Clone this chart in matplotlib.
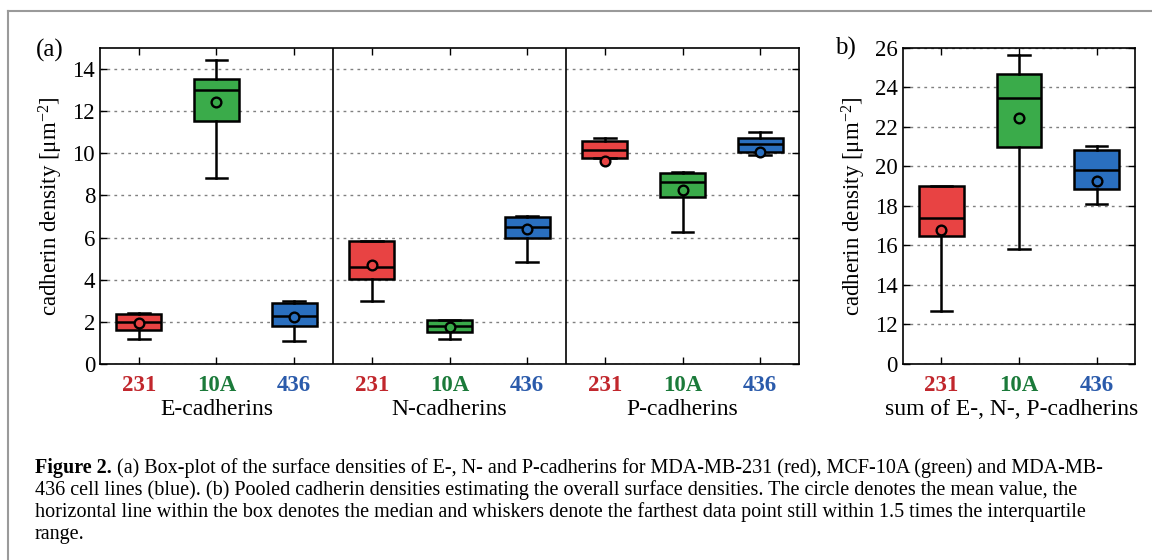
import matplotlib
matplotlib.use('Agg')
import matplotlib.pyplot as plt
from matplotlib.lines import Line2D
from matplotlib.transforms import blended_transform_factory

plt.rcParams['font.family'] = 'Liberation Serif'
plt.rcParams['mathtext.fontset'] = 'custom'
plt.rcParams['mathtext.rm'] = 'Liberation Serif'
plt.rcParams['mathtext.it'] = 'Liberation Serif:italic'

# cell lines and cadherin types
groups = ['231', '10A', '436']
cadherins = ['E-cadherins', 'N-cadherins', 'P-cadherins']

# panel (a): boxes in order E(231,10A,436), N(...), P(...)
q1_a = [1.62, 11.53, 1.82, 4.02, 1.50, 6.00, 9.77, 7.92, 10.06]
med_a = [2.00, 13.02, 2.28, 4.59, 1.79, 6.52, 10.15, 8.66, 10.45]
q3_a = [2.38, 13.55, 2.88, 5.86, 2.07, 6.97, 10.58, 9.06, 10.74]
lo_a = [1.17, 8.82, 1.11, 3.01, 1.17, 4.83, 9.77, 6.27, 9.93]
hi_a = [2.40, 14.44, 2.99, 5.86, 2.10, 7.03, 10.75, 9.12, 11.00]
mean_a = [1.96, 12.45, 2.22, 4.69, 1.77, 6.41, 9.64, 8.27, 10.07]

# panel (b): sum of E-, N-, P-cadherins
q1_b = [16.49, 21.00, 18.87]
med_b = [17.38, 23.48, 19.80]
q3_b = [19.02, 24.70, 20.85]
lo_b = [12.70, 15.83, 18.11]
hi_b = [19.02, 25.66, 21.06]
mean_b = [16.76, 22.47, 19.26]

caption_bold = 'Figure 2.'
caption = [
    ' (a) Box-plot of the surface densities of E-, N- and P-cadherins for MDA-MB-231 (red), MCF-10A (green) and MDA-MB-',
    '436 cell lines (blue). (b) Pooled cadherin densities estimating the overall surface densities. The circle denotes the mean value, the',
    'horizontal line within the box denotes the median and whiskers denote the farthest data point still within 1.5 times the interquartile',
    'range.',
]

box_colors = ['#e84343', '#3aab4a', '#2a6fbf']
label_colors = ['#c1272d', '#1b7a3a', '#2b5bab']
ylab = r'cadherin density [$\mathrm{\mu}$m$^{-2}$]'


def draw_boxes(ax, pos, q1, med, q3, lo, hi, mean):
    stats = []
    for i in range(len(pos)):
        stats.append(dict(q1=q1[i], med=med[i], q3=q3[i], whislo=lo[i],
                          whishi=hi[i], mean=mean[i], fliers=[]))
    lw = 1.8
    bp = ax.bxp(stats, positions=pos, widths=0.58, capwidths=0.28,
                showmeans=True, patch_artist=True,
                boxprops=dict(edgecolor='k', linewidth=lw),
                medianprops=dict(color='k', linewidth=lw),
                whiskerprops=dict(color='k', linewidth=lw),
                capprops=dict(color='k', linewidth=lw),
                meanprops=dict(marker='o', markeredgecolor='k',
                               markersize=7, markeredgewidth=1.7))
    for i, patch in enumerate(bp['boxes']):
        patch.set_facecolor(box_colors[i % 3])
    for i, m in enumerate(bp['means']):
        m.set_markerfacecolor(box_colors[i % 3])


def style_axes(ax, ticks):
    ax.set_yticks(ticks)
    ax.yaxis.grid(True, linestyle=(0, (2, 3)), color='#808080', linewidth=1)
    ax.set_axisbelow(True)
    ax.tick_params(direction='in', top=True, right=True, length=5, width=1,
                   labelsize=16.5)
    ax.tick_params(axis='x', pad=8)
    for s in ax.spines.values():
        s.set_linewidth(1.2)
    for i, lab in enumerate(ax.get_xticklabels()):
        lab.set_color(label_colors[i % 3])
        lab.set_fontweight('bold')


fig = plt.figure(figsize=(11.52, 5.6), dpi=100)
ax_a = fig.add_axes([0.0868, 0.35, 0.6068, 0.5643])
ax_b = fig.add_axes([0.7836, 0.35, 0.2019, 0.5643])

# panel (a)
pos_a = list(range(1, 10))
draw_boxes(ax_a, pos_a, q1_a, med_a, q3_a, lo_a, hi_a, mean_a)
ax_a.set_xlim(0.5, 9.5)
ax_a.set_ylim(0, 15)
ax_a.set_xticks(pos_a)
ax_a.set_xticklabels(groups * 3)
style_axes(ax_a, range(0, 16, 2))
for xs in [3.5, 6.5]:
    ax_a.axvline(xs, color='k', linewidth=1.2)
trans = blended_transform_factory(ax_a.transData, ax_a.transAxes)
for i, name in enumerate(cadherins):
    ax_a.text(2 + 3 * i, -0.145, name, transform=trans, ha='center',
              va='center', fontsize=17)
ax_a.set_ylabel(ylab, fontsize=16.5, labelpad=5)

# panel (b)
pos_b = [1, 2, 3]
draw_boxes(ax_b, pos_b, q1_b, med_b, q3_b, lo_b, hi_b, mean_b)
ax_b.set_xlim(0.5, 3.5)
ax_b.set_ylim(10, 26)
ax_b.set_xticks(pos_b)
ax_b.set_xticklabels(groups)
style_axes(ax_b, range(10, 27, 2))
ax_b.set_yticklabels(['0'] + [str(v) for v in range(12, 27, 2)])
ax_b.text(0.47, -0.145, 'sum of E-, N-, P-cadherins', transform=ax_b.transAxes,
          ha='center', va='center', fontsize=17)
ax_b.set_ylabel(ylab, fontsize=16.5, labelpad=5)

# panel letters
fig.text(0.043, 1 - 50 / 560, '(a)', fontsize=18, ha='center', va='center')
fig.text(0.7335, 1 - 48 / 560, 'b)', fontsize=18, ha='center', va='center')

# frame lines of the figure box
fx = 8 / 1152
fy = 1 - 11 / 560
fig.add_artist(Line2D([fx, fx], [0, fy], color='#9a9a9a', linewidth=1.5))
fig.add_artist(Line2D([fx, 1], [fy, fy], color='#9a9a9a', linewidth=1.5))

# caption
cap_size = 14.5
ys = [468, 490, 512, 535]
tb = fig.text(35 / 1152, 1 - ys[0] / 560, caption_bold, fontsize=cap_size,
              fontweight='bold', ha='left', va='center')
fig.canvas.draw()
bb = tb.get_window_extent(fig.canvas.get_renderer())
fig.text(bb.x1 / fig.bbox.width, 1 - ys[0] / 560, caption[0],
         fontsize=cap_size, ha='left', va='center')
for line, y in zip(caption[1:], ys[1:]):
    fig.text(35 / 1152, 1 - y / 560, line, fontsize=cap_size, ha='left',
             va='center')

fig.savefig('out.png', dpi=100)
